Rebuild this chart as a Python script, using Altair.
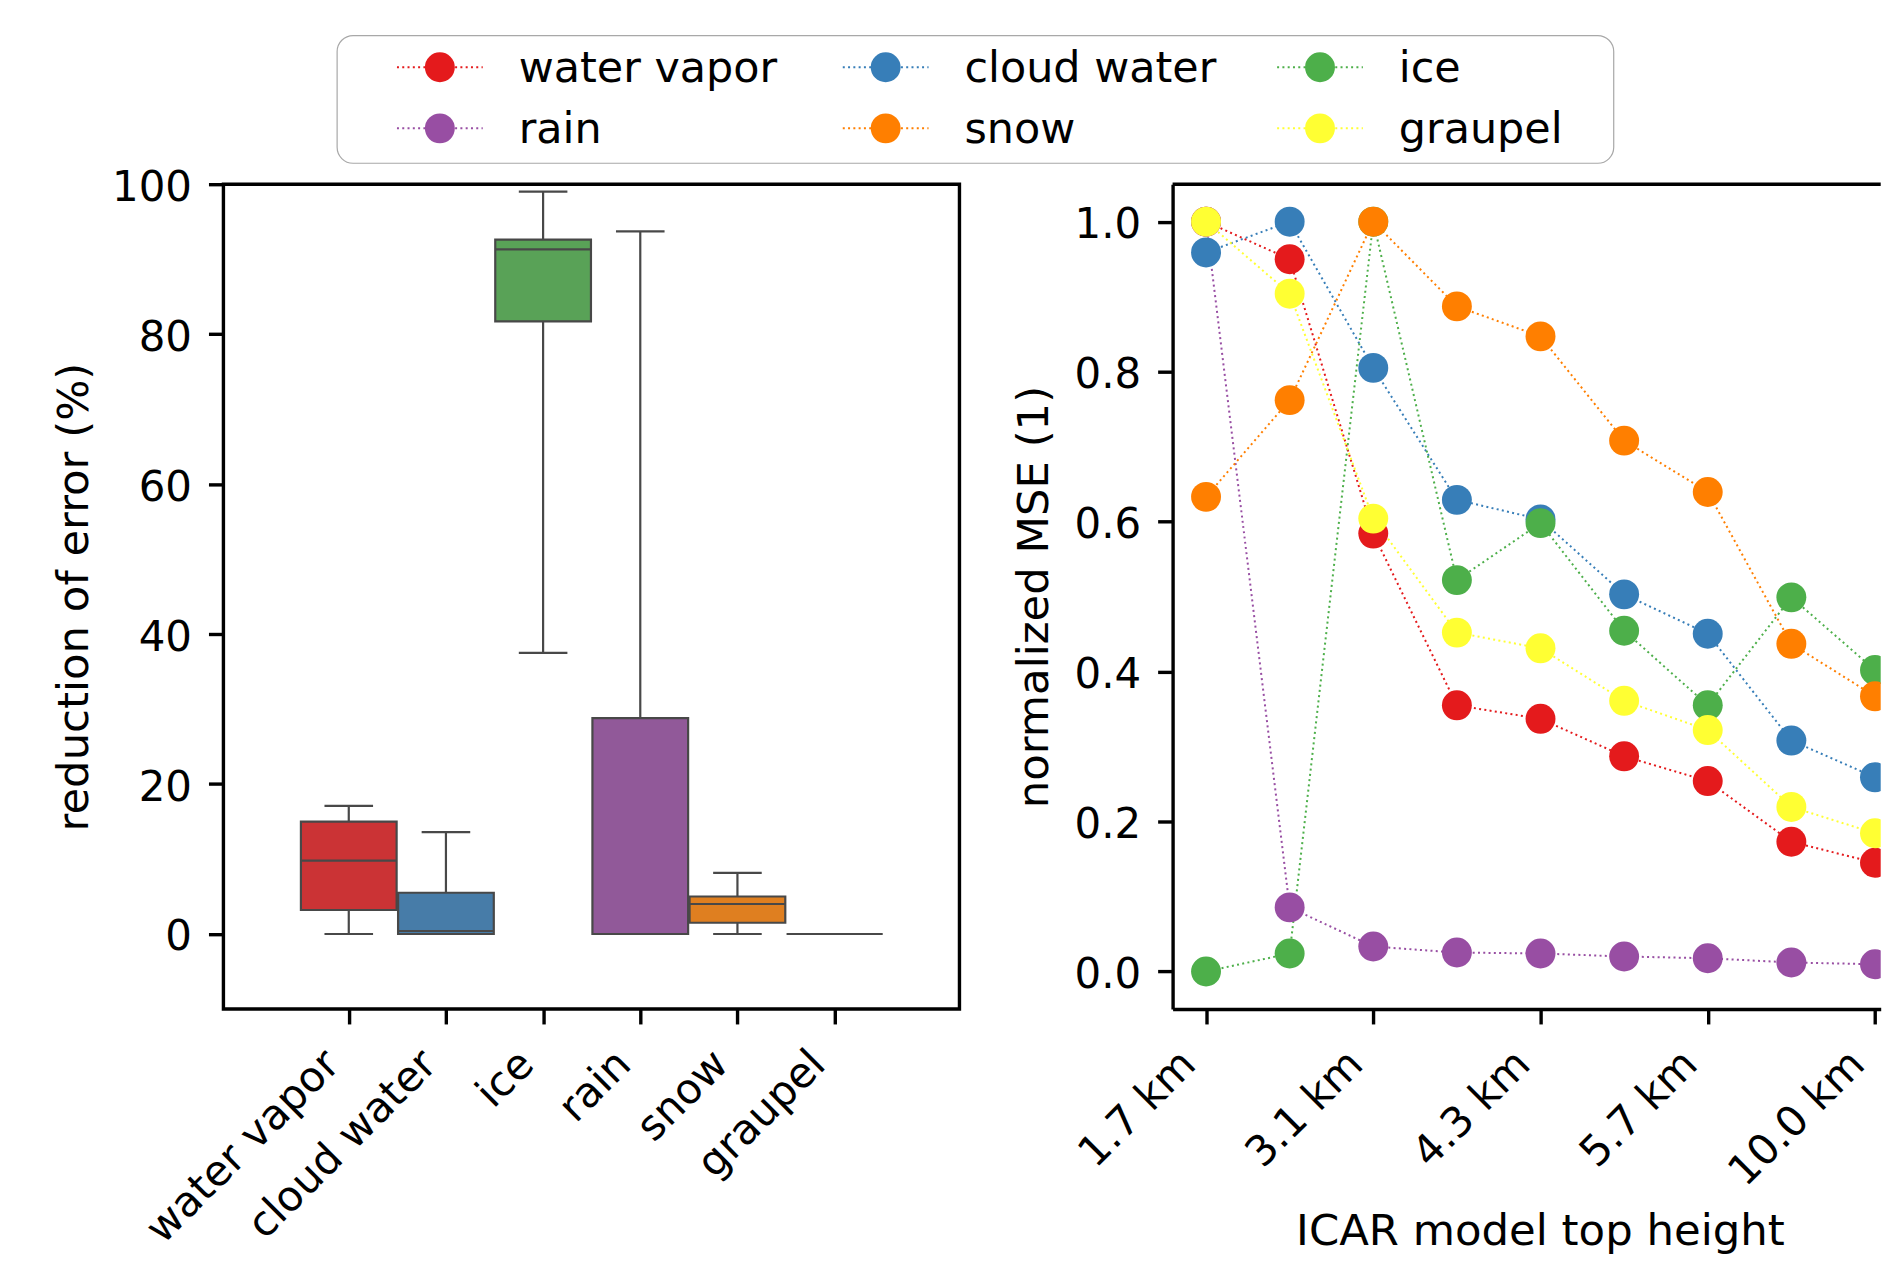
import json
import altair as alt
import pandas as pd

# ---------------- data ----------------
categories = ['water vapor', 'cloud water', 'ice', 'rain', 'snow', 'graupel']
box_colors = ['#cb3335', '#477ca8', '#59a257', '#915999', '#df7f20', '#e6e64d']
line_colors = ['#e41a1c', '#377eb8', '#4daf4a', '#984ea3', '#ff7f00', '#ffff33']

# box plot statistics (reduction of error, %)
whisker_low = [0.0, 0.0, 37.5, 0.0, 0.0, 0.0]
q1 = [3.2, 0.0, 81.7, 0.0, 1.5, 0.0]
median = [9.8, 0.4, 91.3, 0.0, 4.0, 0.0]
q3 = [15.0, 5.5, 92.6, 28.8, 5.0, 0.0]
whisker_high = [17.1, 13.6, 99.0, 93.7, 8.15, 0.0]

# normalized MSE vs ICAR model top height (9 model tops, every 2nd labelled)
height_tick_labels = ['1.7 km', '3.1 km', '4.3 km', '5.7 km', '10.0 km']
mse_water_vapor = [1.0, 0.950, 0.584, 0.355, 0.337, 0.287, 0.254, 0.173, 0.145]
mse_cloud_water = [0.959, 1.0, 0.805, 0.629, 0.603, 0.503, 0.4505, 0.308, 0.259]
mse_ice = [0.0, 0.024, 1.0, 0.522, 0.598, 0.4545, 0.355, 0.499, 0.402]
mse_rain = [1.0, 0.0855, 0.0333, 0.0253, 0.024, 0.020, 0.0177, 0.012, 0.0097]
mse_snow = [0.633, 0.762, 1.0, 0.887, 0.847, 0.708, 0.6395, 0.437, 0.367]
mse_graupel = [1.0, 0.904, 0.604, 0.452, 0.431, 0.361, 0.322, 0.2195, 0.1844]
mse_series = [mse_water_vapor, mse_cloud_water, mse_ice, mse_rain, mse_snow, mse_graupel]

# ---------------- tables ----------------
box_df = pd.DataFrame({
    'idx': list(range(len(categories))),
    'name': categories,
    'lo': whisker_low, 'q1': q1, 'med': median, 'q3': q3, 'hi': whisker_high,
})

rows = []
for s, (name, vals) in enumerate(zip(categories, mse_series)):
    for h, v in enumerate(vals):
        rows.append({'series': name, 'z': s, 'h': h, 'v': v})
mse_df = pd.DataFrame(rows)

legend_df = pd.DataFrame({
    'name': categories,
    'row': [i // 3 for i in range(len(categories))],
    'col': [i % 3 for i in range(len(categories))],
})

FONT = 'DejaVu Sans'
FS = 42        # tick labels
FS_T = 43.5    # axis titles
FS_L = 43      # legend labels
GRAY = '#484848'
SPINE = 3.4
DOT = 900

# ---------------- left panel: box plot ----------------
LW, LH = 738, 827
xs_l = alt.Scale(domain=[-1.29, 6.285], nice=False, zero=False)
ys_l = alt.Scale(domain=[-10, 100], nice=False, zero=False)
x_axis_l = alt.Axis(values=list(range(len(categories))),
                    labelExpr=json.dumps(categories) + '[datum.value]',
                    labelAngle=-45, labelAlign='right', labelBaseline='top',
                    labelOffset=-31, labelPadding=19, labelOverlap=False,
                    labelLimit=2000, labelFlush=False, domain=False, title=None)
y_axis_l = alt.Axis(values=[0, 20, 40, 60, 80, 100], domain=False,
                    labelOffset=3, title='reduction of error (%)',
                    titleX=-170.6, titleY=LH / 2, titleAngle=-90,
                    titleAlign='center', titleBaseline='top')

def X(f):
    return alt.X(f, scale=xs_l, axis=x_axis_l, title=None)

def Y(f):
    return alt.Y(f, scale=ys_l, axis=y_axis_l, title='reduction of error (%)')

bbase = alt.Chart(box_df).transform_calculate(
    bl='datum.idx - 0.4925', br='datum.idx + 0.4925',
    cl='datum.idx - 0.25', cr='datum.idx + 0.25')

upper_whisker = bbase.mark_rule(color=GRAY, strokeWidth=2.2).encode(
    x=X('idx:Q'), y=Y('q3:Q'), y2='hi:Q')
lower_whisker = bbase.mark_rule(color=GRAY, strokeWidth=2.2).encode(
    x=X('idx:Q'), y=Y('lo:Q'), y2='q1:Q')
upper_cap = bbase.mark_rule(color=GRAY, strokeWidth=2.2).encode(
    x=X('cl:Q'), x2='cr:Q', y=Y('hi:Q'))
lower_cap = bbase.mark_rule(color=GRAY, strokeWidth=2.2).encode(
    x=X('cl:Q'), x2='cr:Q', y=Y('lo:Q'))
boxes = bbase.mark_rect(stroke=GRAY, strokeWidth=2.2, opacity=1).encode(
    x=X('bl:Q'), x2='br:Q', y=Y('q1:Q'), y2='q3:Q',
    fill=alt.Fill('name:N', scale=alt.Scale(domain=categories, range=box_colors),
                  legend=None))
medians = bbase.mark_rule(color=GRAY, strokeWidth=2.2).encode(
    x=X('bl:Q'), x2='br:Q', y=Y('med:Q'))

left = alt.layer(upper_whisker, lower_whisker, upper_cap, lower_cap, boxes, medians).properties(
    width=LW, height=LH,
    view=alt.ViewBackground(stroke='black', strokeWidth=SPINE, fill='white'))

# ---------------- right panel: lines ----------------
RW, RH = 710, 827
xs_r = alt.Scale(domain=[-0.4, -0.4 + RW / 83.84], nice=False, zero=False)
ys_r = alt.Scale(domain=[-0.05, 1.05], nice=False, zero=False)
x_axis_r = alt.Axis(values=[0, 2, 4, 6, 8],
                    labelExpr=json.dumps(height_tick_labels) + '[datum.value / 2]',
                    labelAngle=-45, labelAlign='right', labelBaseline='top',
                    labelOffset=-32, labelPadding=19, labelOverlap=False,
                    labelLimit=2000, labelFlush=False, domain=True,
                    title='ICAR model top height', titleX=368.3, titleY=236.4,
                    titleAlign='center', titleBaseline='alphabetic')
y_axis_r = alt.Axis(values=[0, 0.2, 0.4, 0.6, 0.8, 1.0], format='.1f', domain=True,
                    labelOffset=3, title='normalized MSE (1)',
                    titleX=-159, titleY=RH / 2, titleAngle=-90,
                    titleAlign='center', titleBaseline='top')

color_r = alt.Color('series:N', scale=alt.Scale(domain=categories, range=line_colors),
                    legend=None)
RX = alt.X('h:Q', scale=xs_r, axis=x_axis_r, title='ICAR model top height')
RY = alt.Y('v:Q', scale=ys_r, axis=y_axis_r, title='normalized MSE (1)')

lines = alt.Chart(mse_df).mark_line(strokeWidth=2, strokeDash=[2, 3.3], clip=True).encode(
    x=RX, y=RY, color=color_r, order=alt.Order('h:Q'))
points = alt.Chart(mse_df).mark_circle(size=DOT, opacity=1, clip=True).encode(
    x=RX, y=RY, color=color_r, order=alt.Order('z:Q'))
top_spine = alt.Chart(pd.DataFrame({'k': [0]})).mark_rule(
    color='black', strokeWidth=SPINE).encode(
    x=alt.value(0), x2=alt.value(RW), y=alt.value(0))

right = alt.layer(lines, points, top_spine).properties(
    width=RW, height=RH,
    view=alt.ViewBackground(stroke='transparent'))

# ---------------- legend ----------------
GW, GH = 1394, 128
lx = alt.Scale(domain=[0, 1, 2], range=[217, 664, 1099.5])
ly = alt.Scale(domain=[0, 1], range=[31.7, 93])
leg_color = alt.Color('name:N', scale=alt.Scale(domain=categories, range=line_colors),
                      legend=None)

leg_box = alt.Chart(pd.DataFrame({'k': [0]})).mark_rect(
    fill='white', stroke='#a8a8a8', strokeWidth=1.2, cornerRadius=16).encode(
    x=alt.value(114), x2=alt.value(1394), y=alt.value(0), y2=alt.value(GH))
leg_lines = alt.Chart(legend_df).mark_rule(
    strokeWidth=2, strokeDash=[2, 3.3], xOffset=-43, x2Offset=43).encode(
    x=alt.X('col:Q', scale=lx, axis=None), x2='col:Q',
    y=alt.Y('row:Q', scale=ly, axis=None), color=leg_color)
leg_pts = alt.Chart(legend_df).mark_circle(size=DOT, opacity=1).encode(
    x=alt.X('col:Q', scale=lx, axis=None), y=alt.Y('row:Q', scale=ly, axis=None),
    color=leg_color)
leg_text = alt.Chart(legend_df).mark_text(
    align='left', baseline='alphabetic', dx=79, dy=14.5, fontSize=FS_L, font=FONT,
    color='black').encode(
    x=alt.X('col:Q', scale=lx, axis=None), y=alt.Y('row:Q', scale=ly, axis=None),
    text='name:N')

legend = alt.layer(leg_box, leg_lines, leg_pts, leg_text).properties(
    width=GW, height=GH, view=alt.ViewBackground(stroke='transparent'))

# ---------------- assemble ----------------
chart = alt.vconcat(
    legend,
    alt.hconcat(left, right, spacing=213.7, bounds='flush'),
    spacing=21, bounds='flush',
).properties(
    padding={'left': 42, 'top': 24, 'right': 0, 'bottom': 0},
    background='white',
).configure(font=FONT).configure_view(stroke='transparent').configure_axis(
    labelFont=FONT, titleFont=FONT, labelFontSize=FS, titleFontSize=FS_T,
    titleFontWeight='normal', labelColor='black', titleColor='black',
    tickColor='black', domainColor='black', tickWidth=SPINE, domainWidth=SPINE,
    tickSize=15, labelPadding=17, grid=False,
)

chart.save('out.html', embed_options={'renderer': 'svg', 'actions': False})
